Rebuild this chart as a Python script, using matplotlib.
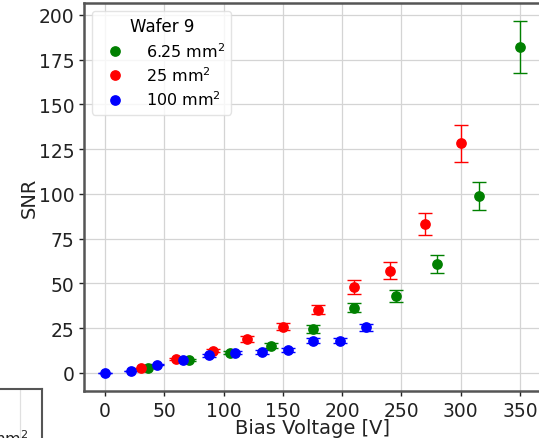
import matplotlib
matplotlib.use("Agg")
import matplotlib.pyplot as plt
from matplotlib.lines import Line2D

# SNR vs bias voltage for three pad sizes (Wafer 9)
v_625 = [36, 71, 105, 140, 175, 210, 245, 280, 315, 350]
snr_625 = [3.0, 7.3, 11.3, 15.3, 24.6, 36.5, 43.0, 60.9, 98.9, 182.3]
err_625 = [0.3, 0.6, 0.9, 1.2, 2.0, 2.5, 3.5, 5.0, 8.0, 14.5]

v_25 = [30, 60, 91, 120, 150, 180, 210, 240, 270, 300]
snr_25 = [2.6, 7.8, 12.5, 19.0, 25.9, 35.4, 47.9, 57.2, 83.2, 128.3]
err_25 = [0.2, 0.6, 1.0, 1.5, 1.8, 2.6, 3.9, 4.7, 6.3, 10.3]

v_100 = [0, 22, 44, 66, 88, 110, 132, 154, 175, 198, 220]
snr_100 = [0.0, 1.0, 4.6, 7.4, 9.9, 11.3, 11.7, 12.8, 18.1, 17.9, 25.5]
err_100 = [0.0, 0.1, 0.4, 0.6, 0.8, 0.9, 0.9, 1.0, 1.4, 1.4, 2.0]

series = [
    (v_625, snr_625, err_625, "green", "6.25 mm$^2$"),
    (v_25, snr_25, err_25, "red", "25 mm$^2$"),
    (v_100, snr_100, err_100, "blue", "100 mm$^2$"),
]

xticks = [0, 50, 100, 150, 200, 250, 300, 350]
yticks = [0, 25, 50, 75, 100, 125, 150, 175, 200]

W, H = 539, 439
fig = plt.figure(figsize=(W / 100, H / 100), dpi=100)

ax_w, ax_h = 456.5, 388
ax = fig.add_axes([84.25 / W, 1 - 392 / H, ax_w / W, ax_h / H])
handles = []
for x, y, e, c, lab in series:
    ax.errorbar(x, y, yerr=e, fmt="o", color=c, ecolor=c, markersize=6.7,
                elinewidth=1.0, capsize=5, capthick=1.0, zorder=3)
    handles.append(Line2D([], [], linestyle="none", marker="o", color=c,
                          markersize=6.7, label=lab))

ax.set_xlim(-17.5, 367.5)
ax.set_ylim(-10.06, 206.7)
ax.set_xticks(xticks)
ax.set_yticks(yticks)
ax.grid(True, color="#d4d4d4", linewidth=0.9)
ax.set_axisbelow(True)
ax.tick_params(labelsize=13.5, colors="#222222", width=1.0)
ax.set_xlabel("Bias Voltage [V]", fontsize=14, color="#222222", labelpad=-1)
ax.set_ylabel("SNR", fontsize=14, color="#222222", labelpad=0)
for s in ax.spines.values():
    s.set_color("#555555")
    s.set_linewidth(1.8)

ax.legend(handles=handles, title="Wafer 9", loc="upper left", fontsize=11.5,
          title_fontsize=12, handletextpad=0.95, borderpad=0.4,
          labelspacing=0.35, borderaxespad=0, framealpha=0.8,
          edgecolor="#dddddd",
          bbox_to_anchor=(8 / ax_w, 1 - 8 / ax_h))

# corner of the neighbouring panel
ax2 = fig.add_axes([-60 / W, -40 / H, 102 / W, 89 / H])
ax2.set_xlim(0, 1)
ax2.set_ylim(0, 1)
ax2.set_xticks([])
ax2.set_yticks([])
ax2.axvline(0.78, color="#e0e0e0", linewidth=0.9)
for s in ax2.spines.values():
    s.set_color("#555555")
    s.set_linewidth(1.5)
fig.text(28 / W, 1 - 445 / H, "mm$^2$", fontsize=11.5, color="#222222",
         ha="right", va="baseline")

fig.savefig("out.png", dpi=100)
